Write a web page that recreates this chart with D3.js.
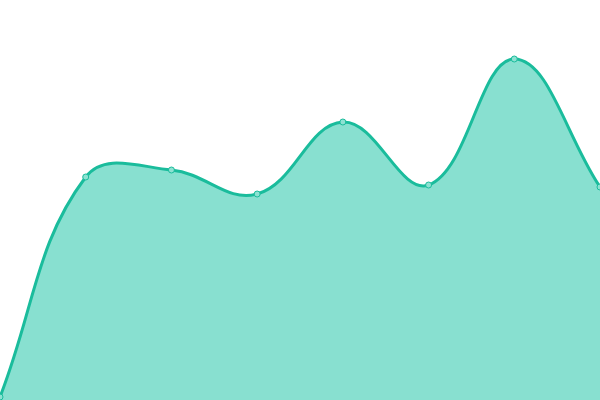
<!DOCTYPE html>
<html><head><meta charset="utf-8">
<script src="https://cdn.jsdelivr.net/npm/d3@7"></script>
<style>html,body{margin:0;padding:0;background:#fff;}svg{display:block;}</style>
</head><body>
<svg id="c" width="600" height="400"></svg>
<script>
const categories = ["A","B","C","D","E","F","G","H"];
const values = [0.75, 55.75, 57.5, 51.5, 69.5, 53.75, 85.25, 53.25];

const W = 600, H = 400;
const svg = d3.select("#c");
const x = d3.scalePoint().domain(categories).range([0, W]);
const y = d3.scaleLinear().domain([0, 100]).range([H, 0]);
const data = categories.map((c, i) => ({c, v: values[i]}));

// Spline with distance-weighted control points (tension 0.4)
function SplineCurve(context, t) { this._context = context; this._t = t; }
SplineCurve.prototype = {
  areaStart() { this._line = 0; },
  areaEnd() { this._line = NaN; },
  lineStart() { this._pts = []; },
  point(px, py) { this._pts.push([+px, +py]); },
  lineEnd() {
    const p = this._pts, n = p.length, c = this._context, t = this._t;
    if (n) {
      if (this._line) c.lineTo(p[0][0], p[0][1]); else c.moveTo(p[0][0], p[0][1]);
      if (n === 2) c.lineTo(p[1][0], p[1][1]);
      else if (n > 2) {
        const cps = p.map((cur, i) => {
          const prev = p[i - 1] || cur, next = p[i + 1] || cur;
          const d01 = Math.hypot(cur[0] - prev[0], cur[1] - prev[1]);
          const d12 = Math.hypot(next[0] - cur[0], next[1] - cur[1]);
          let s01 = d01 / (d01 + d12), s12 = d12 / (d01 + d12);
          if (!isFinite(s01)) s01 = 0; if (!isFinite(s12)) s12 = 0;
          const fa = t * s01, fb = t * s12;
          const dx = next[0] - prev[0], dy = next[1] - prev[1];
          return {
            prev: [cur[0] - fa * dx, cur[1] - fa * dy],
            next: [cur[0] + fb * dx, cur[1] + fb * dy]
          };
        });
        for (let i = 1; i < n; i++) {
          const a = cps[i - 1].next, b = cps[i].prev;
          c.bezierCurveTo(a[0], a[1], b[0], b[1], p[i][0], p[i][1]);
        }
      }
    }
    if (this._line || (this._line !== 0 && n === 1)) c.closePath();
    this._line = 1 - this._line;
  }
};
const curve = ctx => new SplineCurve(ctx, 0.4);

svg.append("path").datum(data)
  .attr("d", d3.area().x(d => x(d.c)).y0(H).y1(d => y(d.v)).curve(curve))
  .attr("fill", "#88e0d0");
svg.append("path").datum(data)
  .attr("d", d3.line().x(d => x(d.c)).y(d => y(d.v)).curve(curve))
  .attr("fill", "none").attr("stroke", "#1abc9c").attr("stroke-width", 3);
svg.selectAll("circle").data(data).join("circle")
  .attr("cx", d => x(d.c)).attr("cy", d => y(d.v)).attr("r", 3)
  .attr("fill", "#8de2d2").attr("stroke", "#1abc9c").attr("stroke-width", 1);
</script>
</body></html>
